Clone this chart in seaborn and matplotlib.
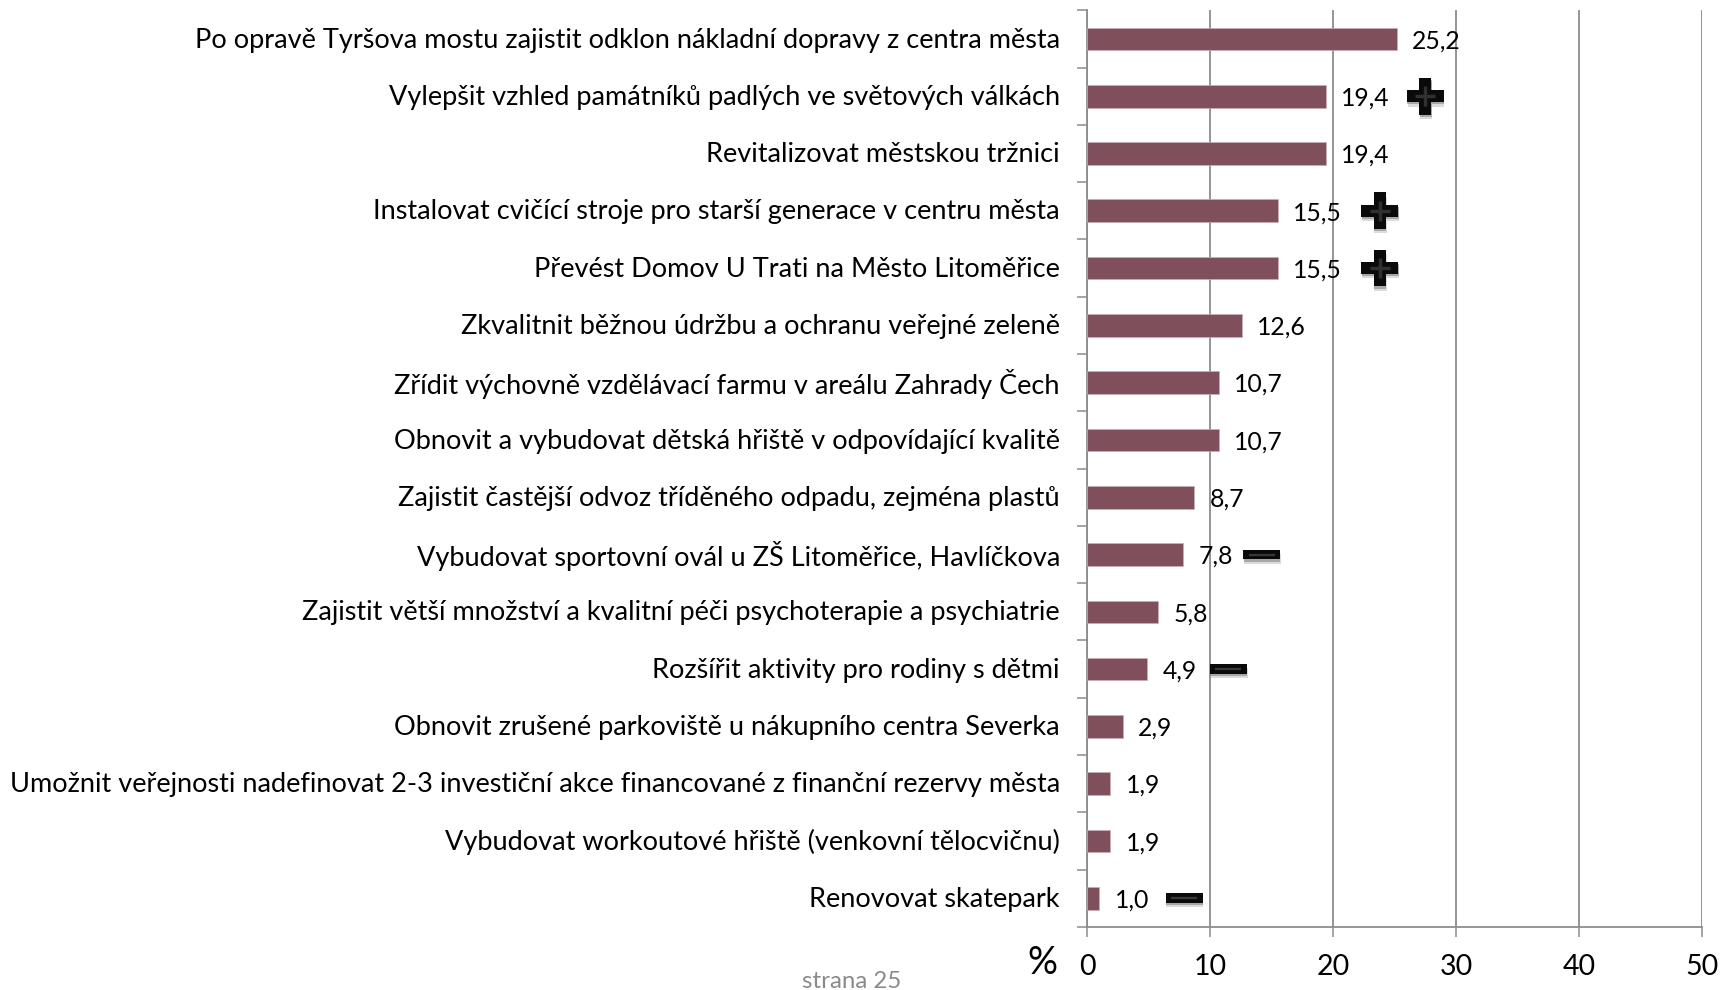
import matplotlib
matplotlib.use('Agg')
import matplotlib.pyplot as plt
import matplotlib.patheffects as pe
from matplotlib.transforms import ScaledTranslation
import pandas as pd
import seaborn as sns

kategorie = [
    'Po opravě Tyršova mostu zajistit odklon nákladní dopravy z centra města',
    'Vylepšit vzhled památníků padlých ve světových válkách',
    'Revitalizovat městskou tržnici',
    'Instalovat cvičící stroje pro starší generace v centru města',
    'Převést Domov U Trati na Město Litoměřice',
    'Zkvalitnit běžnou údržbu a ochranu veřejné zeleně',
    'Zřídit výchovně vzdělávací farmu v areálu Zahrady Čech',
    'Obnovit a vybudovat dětská hřiště v odpovídající kvalitě',
    'Zajistit častější odvoz tříděného odpadu, zejména plastů',
    'Vybudovat sportovní ovál u ZŠ Litoměřice, Havlíčkova',
    'Zajistit větší množství a kvalitní péči psychoterapie a psychiatrie',
    'Rozšířit aktivity pro rodiny s dětmi',
    'Obnovit zrušené parkoviště u nákupního centra Severka',
    'Umožnit veřejnosti nadefinovat 2-3 investiční akce financované z finanční rezervy města',
    'Vybudovat workoutové hřiště (venkovní tělocvičnu)',
    'Renovovat skatepark',
]
hodnoty = [25.2, 19.4, 19.4, 15.5, 15.5, 12.6, 10.7, 10.7, 8.7, 7.8, 5.8, 4.9, 2.9, 1.9, 1.9, 1.0]
x_ticks = [0, 10, 20, 30, 40, 50]

# znacky plus / minus vedle popisku
plus_radky = [1, 3, 4]
plus_x = [27.5, 23.8, 23.8]
minus_radky = [9, 11, 15]
minus_x = [14.2, 11.5, 7.9]

sns.set_theme(style='white')
plt.rcParams['font.family'] = ['Lato', 'DejaVu Sans']

SEDA = '#8c8c8c'
W, H = 1722, 990

df = pd.DataFrame({'kategorie': kategorie, 'hodnota': hodnoty})
fig = plt.figure(figsize=(W / 100, H / 100), dpi=100)
ax = fig.add_axes([1087 / W, 1 - 926.9 / H, (1702 - 1087) / W, (926.9 - 10.3) / H])

sns.barplot(data=df, x='hodnota', y='kategorie', orient='h', color='#7f4f5b', saturation=1,
            width=0.395, ax=ax, zorder=3, edgecolor='#c9b0b6', linewidth=0.5)

ax.set_xlim(0, 50)
ax.set_ylim(15.5, -0.5)
ax.set_xticks(x_ticks)
ax.set_yticks([i - 0.5 for i in range(17)])
ax.set_yticklabels([])
ax.set_yticks(range(16), labels=kategorie, minor=True)
ax.grid(axis='x', color=SEDA, linewidth=1.3, zorder=0)
ax.set_axisbelow(True)
ax.tick_params(axis='y', which='major', left=True, length=7.2, width=1.1, color=SEDA)
ax.tick_params(axis='y', which='minor', left=False, length=0, pad=19.5, labelsize=19.5, labelcolor='black')
ax.tick_params(axis='x', bottom=True, length=7.2, width=1.1, color=SEDA, pad=12, labelsize=20.5, labelcolor='black')
for s in ['top', 'right']:
    ax.spines[s].set_visible(False)
for s in ['left', 'bottom']:
    ax.spines[s].set_color(SEDA)
    ax.spines[s].set_linewidth(1.3)

# popisky kategorii o kousek vys
posun = ScaledTranslation(0, 1 / 72, fig.dpi_scale_trans)
for t in ax.get_yticklabels(minor=True):
    t.set_transform(t.get_transform() + posun)

# popisky hodnot s desetinnou carkou
for i, v in enumerate(hodnoty):
    ax.annotate(f'{v:.1f}'.replace('.', ','), (v, i), xytext=(11, -1.3), textcoords='offset points',
                va='center', ha='left', fontsize=17.8, color='black', zorder=5)

stin = [pe.SimplePatchShadow(offset=(0.5, -3), shadow_rgbFace='#999999', alpha=0.35),
        pe.SimplePatchShadow(offset=(0.3, -1.5), shadow_rgbFace='#777777', alpha=0.5),
        pe.Normal()]

plus_df = pd.DataFrame({'x': plus_x, 'y': plus_radky})
m = sns.scatterplot(data=plus_df, x='x', y='y', marker='P', s=700, color='#0a0a0a', linewidth=0, ax=ax, zorder=6)
m.collections[-1].set_path_effects(stin)
sns.scatterplot(data=plus_df, x='x', y='y', marker='+', s=200, color='#303030', linewidth=2.5, ax=ax, zorder=7)

minus_df = pd.DataFrame({'x': minus_x, 'y': minus_radky})
obdelnik = [(-1, -0.27), (1, -0.27), (1, 0.27), (-1, 0.27), (-1, -0.27)]
m = sns.scatterplot(data=minus_df, x='x', y='y', marker=obdelnik, s=700, color='#0a0a0a', linewidth=0, ax=ax, zorder=6)
m.collections[-1].set_path_effects(stin)
sns.scatterplot(data=minus_df, x='x', y='y', marker='_', s=360, color='#383838', linewidth=1.6, ax=ax, zorder=7)

ax.set_xlabel('')
ax.set_ylabel('')

fig.text(1042 / W, 1 - 963 / H, '%', ha='center', va='center', fontsize=27, color='black')
fig.text(852 / W, 1 - 981 / H, 'strana 25', ha='center', va='center', fontsize=17.3, color='#8a8a8a')

plt.savefig('out.png', dpi=100)
